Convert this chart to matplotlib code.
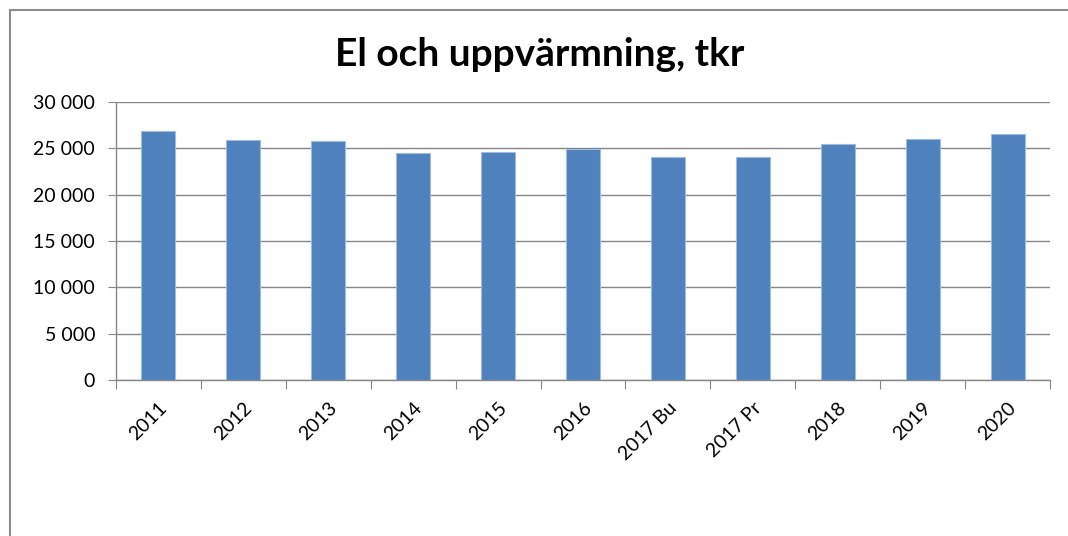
import numpy as np
import matplotlib.pyplot as plt
from matplotlib.patches import Rectangle
from matplotlib.ticker import FuncFormatter

# data
years = ['2011', '2012', '2013', '2014', '2015', '2016',
         '2017 Bu', '2017 Pr', '2018', '2019', '2020']
cost = [26840, 25860, 25760, 24490, 24600, 24930,
        24090, 24090, 25430, 26000, 26510]

W, H = 1068, 536
fig = plt.figure(figsize=(W/100, H/100), dpi=100)

# outer chart border (cut off at right/bottom like the screenshot)
fig.patches.append(Rectangle((10/W, -0.1), 1.2, 1.1 - 10/H,
                             transform=fig.transFigure, fill=False,
                             edgecolor='#8c8c8c', linewidth=1.5))

left, right, top, bottom = 116, 1050, 102, 380
ax = fig.add_axes([left/W, 1 - bottom/H, (right-left)/W, (bottom-top)/H])

x = np.arange(len(years))
ax.bar(x, cost, width=0.4, color='#4f81bd', edgecolor='#9dbbe0', linewidth=0.8, zorder=3)

ax.set_xlim(-0.5, len(years) - 0.5)
ax.set_ylim(0, 30000)
ax.set_yticks(np.arange(0, 30001, 5000))
ax.yaxis.set_major_formatter(FuncFormatter(lambda v, p: f"{int(v):,}".replace(',', ' ')))
ax.grid(axis='y', color='#868686', linewidth=1.0, zorder=0)

ax.set_xticks(np.arange(-0.5, len(years), 1.0))
ax.set_xticklabels([])
ax.set_xticks(x, minor=True)
ax.set_xticklabels(years, minor=True, rotation=45, ha='right', va='top',
                   rotation_mode='anchor', fontsize=14, family='Lato')
ax.tick_params(axis='x', which='minor', length=0, pad=14)
ax.tick_params(axis='x', which='major', length=6.5, color='#868686', direction='out')
ax.tick_params(axis='y', length=6, color='#868686', labelsize=14, pad=9)
for lab in ax.get_yticklabels():
    lab.set_family('Lato')

for s in ['top', 'right']:
    ax.spines[s].set_visible(False)
for s in ['left', 'bottom']:
    ax.spines[s].set_color('#868686')
    ax.spines[s].set_linewidth(1.0)

fig.text(540/W, 1 - 55/H, 'El och uppvärmning, tkr', ha='center', va='center',
         fontsize=28, fontweight='bold', family='Lato')

fig.savefig('out.png', dpi=100, facecolor='white')
